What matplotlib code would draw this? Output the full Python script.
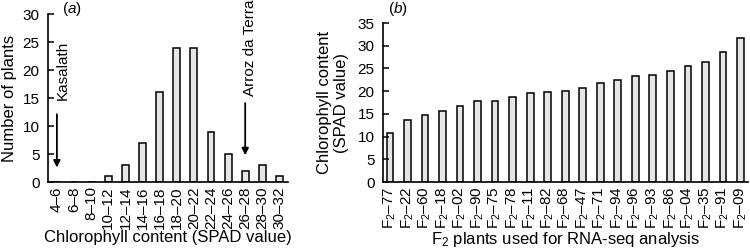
import matplotlib
matplotlib.use("Agg")
import matplotlib.pyplot as plt
import numpy as np

plt.rcParams["font.family"] = ["Liberation Sans", "DejaVu Sans"]
plt.rcParams["mathtext.fontset"] = "custom"
plt.rcParams["mathtext.rm"] = "Liberation Sans"
plt.rcParams["mathtext.it"] = "Liberation Sans:italic"

# (a) distribution of SPAD values in the F2 population
spad_bins = ["4–6", "6–8", "8–10", "10–12", "12–14", "14–16", "16–18",
             "18–20", "20–22", "22–24", "24–26", "26–28", "28–30", "30–32"]
n_plants = [0, 0, 0, 1, 3, 7, 16, 24, 24, 9, 5, 2, 3, 1]

# (b) F2 plants used for RNA-seq
f2_ids = ["77", "22", "60", "18", "02", "90", "75", "78", "11", "82", "68",
          "47", "71", "94", "96", "93", "86", "04", "35", "91", "09"]
f2_spad = [10.7, 13.6, 14.7, 15.6, 16.7, 17.9, 17.9, 18.7, 19.6, 19.9, 20.1,
           20.7, 21.9, 22.4, 23.3, 23.6, 24.4, 25.5, 26.4, 28.6, 31.7]

BAR = "#e6e6e6"
FS = 11


def style(ax):
    for s in ("top", "right"):
        ax.spines[s].set_visible(False)
    for s in ("left", "bottom"):
        ax.spines[s].set_linewidth(1.2)
    ax.tick_params(axis="y", direction="in", length=4, width=1.1, labelsize=FS, pad=6)
    ax.tick_params(axis="x", length=0, labelsize=FS, pad=3)


fig = plt.figure(figsize=(7.5, 2.48), dpi=100)

# panel (a)
ax = fig.add_axes([0.064, 0.266, 0.32, 0.677])
x = np.arange(len(spad_bins))
ax.bar(x, n_plants, 0.4, color=BAR, edgecolor="black", linewidth=1.1)
ax.set_xlim(-0.52, 13.5)
ax.set_ylim(0, 30)
ax.set_yticks(range(0, 31, 5))
ax.set_xticks(x)
ax.set_xticklabels(spad_bins, rotation=90)
ax.set_ylabel("Number of plants", fontsize=FS + 1, labelpad=4)
ax.set_xlabel("Chlorophyll content (SPAD value)", fontsize=FS + 1, labelpad=1)
style(ax)
ax.annotate("", xy=(0, 2.1), xytext=(0, 12.6),
            arrowprops=dict(arrowstyle="-|>", color="black", lw=1.3, mutation_scale=10))
ax.text(0.32, 14.6, "Kasalath", rotation=90, ha="center", va="bottom", fontsize=FS)
ax.annotate("", xy=(11, 4.3), xytext=(11, 14.6),
            arrowprops=dict(arrowstyle="-|>", color="black", lw=1.3, mutation_scale=10))
ax.text(11.28, 15.3, "Arroz da Terra", rotation=90, ha="center", va="bottom", fontsize=FS,
        clip_on=False)
fig.text(0.082, 0.962, "($a$)", ha="left", va="center", fontsize=FS)

# panel (b)
bx = fig.add_axes([0.5107, 0.266, 0.487, 0.641])
x2 = np.arange(len(f2_ids))
bx.bar(x2, f2_spad, 0.38, color=BAR, edgecolor="black", linewidth=1.1)
bx.set_xlim(-0.4, 20.45)
bx.set_ylim(0, 35)
bx.set_yticks(range(0, 36, 5))
bx.set_xticks(x2)
bx.set_xticklabels([r"F$_2$–" + i for i in f2_ids], rotation=90)
bx.set_ylabel("Chlorophyll content\n(SPAD value)", fontsize=FS + 1, labelpad=6)
bx.set_xlabel(r"F$_2$ plants used for RNA-seq analysis", fontsize=FS + 1, labelpad=1)
style(bx)
fig.text(0.518, 0.962, "($b$)", ha="left", va="center", fontsize=FS)

fig.savefig("out.png", dpi=100)
